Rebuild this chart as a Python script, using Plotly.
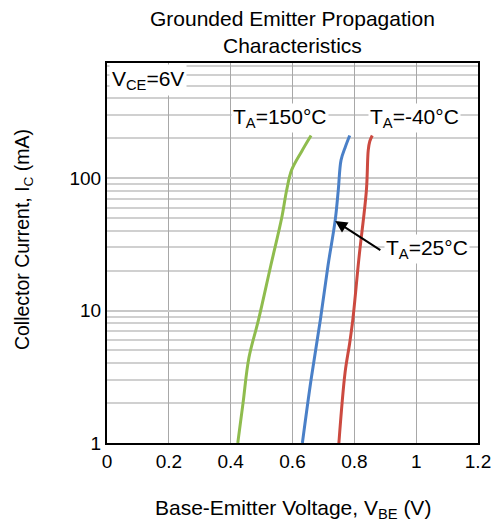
import plotly.graph_objects as go

# Data (V_BE in volts, I_C in mA)
v_150 = [0.423, 0.44, 0.459, 0.49, 0.53, 0.565, 0.581, 0.597, 0.63, 0.66]
i_150 = [1.0, 2.0, 4.4, 8.5, 22, 50, 81, 115, 160, 210]

v_25 = [0.632, 0.66, 0.69, 0.715, 0.738, 0.748, 0.757, 0.77, 0.785]
i_25 = [1.0, 3.0, 8.5, 22, 48, 81, 137, 170, 210]

v_m40 = [0.75, 0.77, 0.785, 0.795, 0.815, 0.839, 0.845, 0.85, 0.858]
i_m40 = [1.0, 3.4, 5.7, 8.5, 25, 81, 163, 190, 210]

x_ticks = [0, 0.2, 0.4, 0.6, 0.8, 1.0, 1.2]
x_tick_text = ["0", "0.2", "0.4", "0.6", "0.8", "1", "1.2"]
y_ticks = [1, 10, 100]
y_minor = [2, 3, 4, 5, 6, 7, 8, 9, 20, 30, 40, 50, 60, 70, 80, 90,
           200, 300, 400, 500, 600, 700]

FONT = "Liberation Sans, Arial, sans-serif"

fig = go.Figure()
fig.add_trace(go.Scatter(x=v_150, y=i_150, mode="lines",
                         line=dict(color="#8fbc4e", width=3, shape="spline")))
fig.add_trace(go.Scatter(x=v_25, y=i_25, mode="lines",
                         line=dict(color="#4a80c8", width=3, shape="spline")))
fig.add_trace(go.Scatter(x=v_m40, y=i_m40, mode="lines",
                         line=dict(color="#cc4a40", width=3, shape="spline")))

fig.update_layout(
    width=503, height=523,
    margin=dict(l=107, r=14, t=63, b=80),
    paper_bgcolor="white", plot_bgcolor="white",
    showlegend=False,
    font=dict(family=FONT, size=19, color="black"),
)

fig.update_xaxes(
    range=[0, 1.2], tickvals=x_ticks, ticktext=x_tick_text,
    showgrid=True, gridcolor="#a8a8a8", gridwidth=1,
    showline=True, linecolor="black", linewidth=2, mirror=True,
    ticks="", zeroline=False,
    tickfont=dict(size=19, family=FONT),
)

fig.update_yaxes(
    type="log", range=[0, 2.87], tickvals=y_ticks,
    ticktext=["1", "10", "100"],
    showgrid=True, gridcolor="#c8c8c8", gridwidth=2,
    minor=dict(tickvals=y_minor, showgrid=True, gridcolor="#d0d0d0", gridwidth=2, ticks=""),
    showline=True, linecolor="black", linewidth=2, mirror=True,
    ticks="", zeroline=False,
    tickfont=dict(size=19, family=FONT),
)

# Title
fig.add_annotation(xref="paper", yref="paper", x=0.5, y=1,
                   xanchor="center", yanchor="bottom", yshift=4,
                   text="Grounded Emitter Propagation<br>Characteristics",
                   showarrow=False, font=dict(size=21, family=FONT))
# Axis titles
fig.add_annotation(xref="paper", yref="paper", x=0.5, y=0,
                   xanchor="center", yanchor="middle", yshift=-66,
                   text="Base-Emitter Voltage, V<sub>BE</sub> (V)",
                   showarrow=False, font=dict(size=21, family=FONT))
fig.add_annotation(xref="paper", yref="paper", x=0, y=0.534,
                   xanchor="center", yanchor="middle", xshift=-84,
                   textangle=-90,
                   text="Collector Current, I<sub>C</sub> (mA)",
                   showarrow=False, font=dict(size=19.5, family=FONT))

# In-plot labels
fig.add_annotation(xref="paper", yref="paper", x=0.006, y=0.955,
                   xanchor="left", yanchor="middle",
                   text="V<sub>CE</sub>=6V", showarrow=False,
                   bgcolor="white", borderpad=2, font=dict(size=21, family=FONT))
fig.add_annotation(x=0.559, y=2.455, yref="y", xref="x",
                   text="T<sub>A</sub>=150°C", showarrow=False,
                   bgcolor="white", font=dict(size=21, family=FONT))
fig.add_annotation(x=0.996, y=2.455, yref="y", xref="x",
                   text="T<sub>A</sub>=-40°C", showarrow=False,
                   bgcolor="white", font=dict(size=21, family=FONT))
fig.add_annotation(x=0.738, y=1.677, xref="x", yref="y",
                   ax=0.889, ay=1.45, axref="x", ayref="y",
                   text="", showarrow=True, arrowhead=2, arrowsize=1.2,
                   arrowwidth=2, arrowcolor="black")
fig.add_annotation(x=0.895, y=1.465, xref="x", yref="y",
                   xanchor="left", yanchor="middle",
                   text="T<sub>A</sub>=25°C", showarrow=False,
                   bgcolor="white", font=dict(size=21, family=FONT))

fig.write_html("out.html", config={"displayModeBar": False},
               post_script="document.body.style.margin='0';document.body.style.overflow='hidden';")
